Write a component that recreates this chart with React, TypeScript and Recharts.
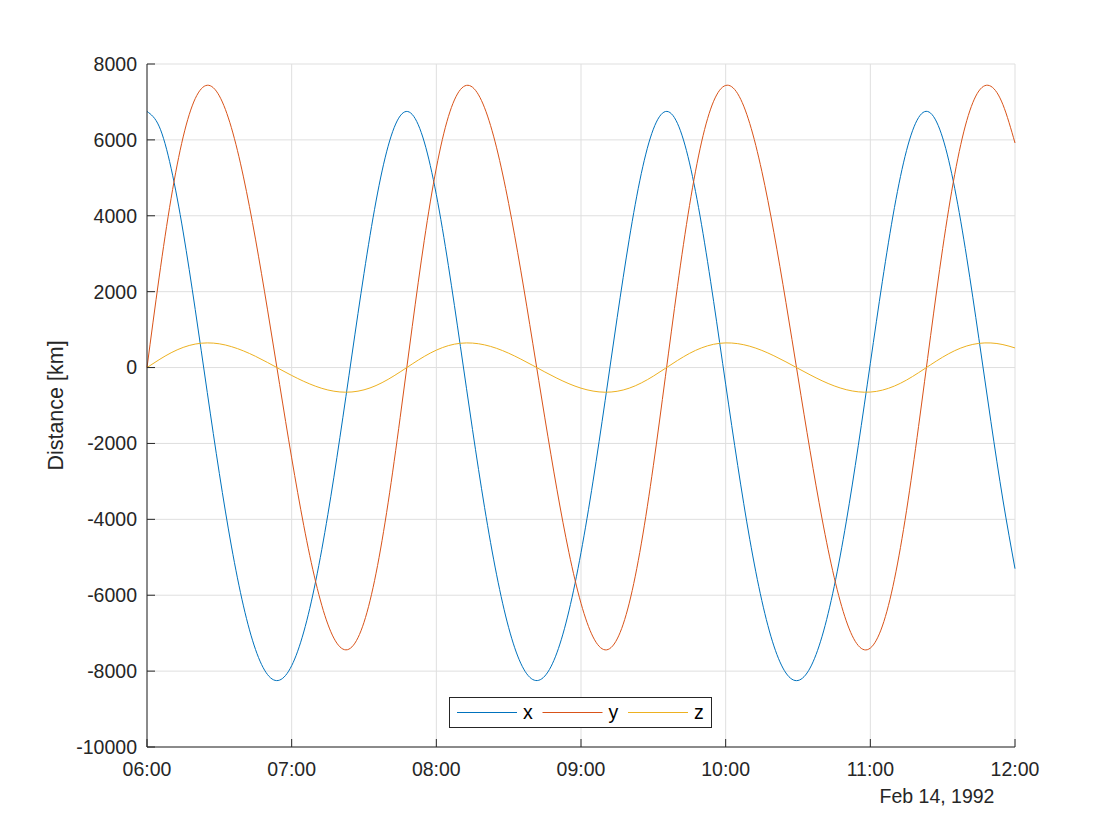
import { LineChart, Line, XAxis, YAxis, CartesianGrid, Label } from 'recharts';

// minutes after 06:00, Feb 14 1992
const minutes = [
  0, 5, 10, 15, 20, 25, 30, 35, 40, 45, 50, 55, 60, 65, 70, 75, 80, 85, 90, 95,
  100, 105, 110, 115, 120, 125, 130, 135, 140, 145, 150, 155, 160, 165, 170, 175,
  180, 185, 190, 195, 200, 205, 210, 215, 220, 225, 230, 235, 240, 245, 250, 255,
  260, 265, 270, 275, 280, 285, 290, 295, 300, 305, 310, 315, 320, 325, 330, 335,
  340, 345, 350, 355, 360,
];

const xKm = [
  6750, 6362, 5253, 3574, 1531, -656, -2789, -4704, -6281, -7429, -8092, -8237,
  -7857, -6970, -5619, -3878, -1847, 332, 2481, 4389, 5833, 6632, 6671, 5945,
  4556, 2686, 552, -1633, -3685, -5461, -6855, -7791, -8222, -8130, -7519, -6414,
  -4878, -2993, -875, 1316, 3382, 5111, 6282, 6747, 6437, 5393, 3764, 1745,
  -438, -2582, -4527, -6142, -7336, -8050, -8247, -7919, -7081, -5774, -4068, -2060,
  112, 2274, 4217, 5717, 6588, 6705, 6053, 4723, 2890, 771, -1419, -3491, -5300,
];

const yKm = [
  0, 2362, 4461, 6078, 7088, 7440, 7160, 6322, 5025, 3385, 1520, -444,
  -2380, -4159, -5659, -6762, -7360, -7362, -6714, -5420, -3565, -1317, 1079, 3353,
  5258, 6613, 7327, 7388, 6847, 5791, 4323, 2567, 641, -1326, -3206, -4877,
  -6212, -7100, -7440, -7153, -6210, -4646, -2588, -242, 2134, 4269, 5943, 7018,
  7435, 7216, 6430, 5173, 3562, 1714, -247, -2191, -3992, -5526, -6674, -7327,
  -7393, -6811, -5579, -3773, -1554, 841, 3140, 5092, 6508, 7288, 7413, 6928, 5919,
];

const zKm = [
  0, 206, 390, 531, 619, 650, 626, 552, 439, 296, 133, -39,
  -208, -363, -494, -591, -643, -643, -587, -474, -311, -115, 94, 293,
  459, 578, 640, 645, 598, 506, 378, 224, 56, -116, -280, -426,
  -543, -620, -650, -625, -543, -406, -226, -21, 186, 373, 519, 613,
  650, 630, 562, 452, 311, 150, -22, -191, -349, -483, -583, -640,
  -646, -595, -487, -330, -136, 73, 274, 445, 569, 637, 648, 605, 517,
];

const timeTicks = [0, 60, 120, 180, 240, 300, 360];
const timeLabels = ['06:00', '07:00', '08:00', '09:00', '10:00', '11:00', '12:00'];
const distTicks = [-10000, -8000, -6000, -4000, -2000, 0, 2000, 4000, 6000, 8000];

const series = [
  { key: 'x', color: '#0072BD' },
  { key: 'y', color: '#D95319' },
  { key: 'z', color: '#EDB120' },
];

const data = minutes.map((t, i) => ({ t, x: xKm[i], y: yKm[i], z: zKm[i] }));

const font = '"Liberation Sans", Arial, Helvetica, sans-serif';
const ink = '#262626';
const TICK_LEN = 8;
const FS = 19.5;

// MATLAB-style ticks point into the plot box, so draw the tick marks ourselves
const LeftTick = (props: any) => {
  const { x, y, payload } = props;
  return (
    <g>
      <line x1={x + 10} x2={x + 10 + TICK_LEN} y1={y} y2={y} stroke={ink} />
      <text x={x} y={y} dy="0.355em" textAnchor="end" fontSize={FS} fill={ink} fontFamily={font}>
        {payload.value}
      </text>
    </g>
  );
};

const BottomTick = (props: any) => {
  const { x, y, payload } = props;
  return (
    <g>
      <line x1={x} x2={x} y1={y - 15} y2={y - 15 - TICK_LEN} stroke={ink} />
      <text x={x} y={y} dy="0.71em" textAnchor="middle" fontSize={FS} fill={ink} fontFamily={font}>
        {timeLabels[timeTicks.indexOf(payload.value)]}
      </text>
    </g>
  );
};

const TopTick = (props: any) => {
  const { x, y } = props;
  return <line x1={x} x2={x} y1={y} y2={y + TICK_LEN} stroke={ink} />;
};

const RightTick = (props: any) => {
  const { x, y } = props;
  return <line x1={x} x2={x - TICK_LEN} y1={y} y2={y} stroke={ink} />;
};

export default function App() {
  return (
    <div style={{ position: 'absolute', left: 0, top: 0, width: 1120, height: 840, background: '#fff', fontFamily: font }}>
      <LineChart width={1120} height={840} data={data} margin={{ top: 64, right: 105, bottom: 0, left: 0 }}>
        <CartesianGrid xAxisId="bottom" yAxisId="left" stroke="#dfdfdf" strokeWidth={1} />
        <XAxis
          xAxisId="bottom"
          dataKey="t"
          type="number"
          domain={[0, 360]}
          ticks={timeTicks}
          interval={0}
          height={93}
          tickLine={false}
          tickSize={0}
          tickMargin={15}
          stroke={ink}
          tick={BottomTick}
        />
        <XAxis
          xAxisId="top"
          orientation="top"
          dataKey="t"
          type="number"
          domain={[0, 360]}
          ticks={timeTicks}
          interval={0}
          height={0}
          tickLine={false}
          tickSize={0}
          tickMargin={0}
          stroke={ink}
          tick={TopTick}
        />
        <YAxis
          yAxisId="left"
          type="number"
          domain={[-10000, 8000]}
          ticks={distTicks}
          interval={0}
          width={147}
          tickLine={false}
          tickSize={0}
          tickMargin={10}
          stroke={ink}
          tick={LeftTick}
        >
          <Label value="Distance [km]" angle={-90} position="center" dx={-18.5} fill={ink} fontSize={21.5} fontFamily={font} />
        </YAxis>
        <YAxis
          yAxisId="right"
          orientation="right"
          type="number"
          domain={[-10000, 8000]}
          ticks={distTicks}
          interval={0}
          width={0}
          tickLine={false}
          tickSize={0}
          tickMargin={0}
          stroke={ink}
          tick={RightTick}
        />
        {series.map((s) => (
          <Line
            key={s.key}
            xAxisId="bottom"
            yAxisId="left"
            type="natural"
            dataKey={s.key}
            stroke={s.color}
            strokeWidth={1}
            dot={false}
            activeDot={false}
            isAnimationActive={false}
          />
        ))}
      </LineChart>

      <div style={{ position: 'absolute', left: 449, top: 697, width: 263, height: 31, boxSizing: 'border-box', border: `1px solid ${ink}`, background: '#fff' }}>
        <svg width={261} height={29} style={{ display: 'block' }}>
          {series.map((s, i) => (
            <g key={s.key}>
              <line x1={7 + i * 85.5} x2={67 + i * 85.5} y1={14.5} y2={14.5} stroke={s.color} strokeWidth={1} />
              <text x={73 + i * 85.5} y={20.5} fontSize={FS} fill="#000" fontFamily={font}>{s.key}</text>
            </g>
          ))}
        </svg>
      </div>

      <div style={{ position: 'absolute', left: 837, top: 787, width: 200, textAlign: 'center', fontSize: FS, lineHeight: '19.5px', color: ink, whiteSpace: 'nowrap' }}>
        Feb 14, 1992
      </div>
    </div>
  );
}
